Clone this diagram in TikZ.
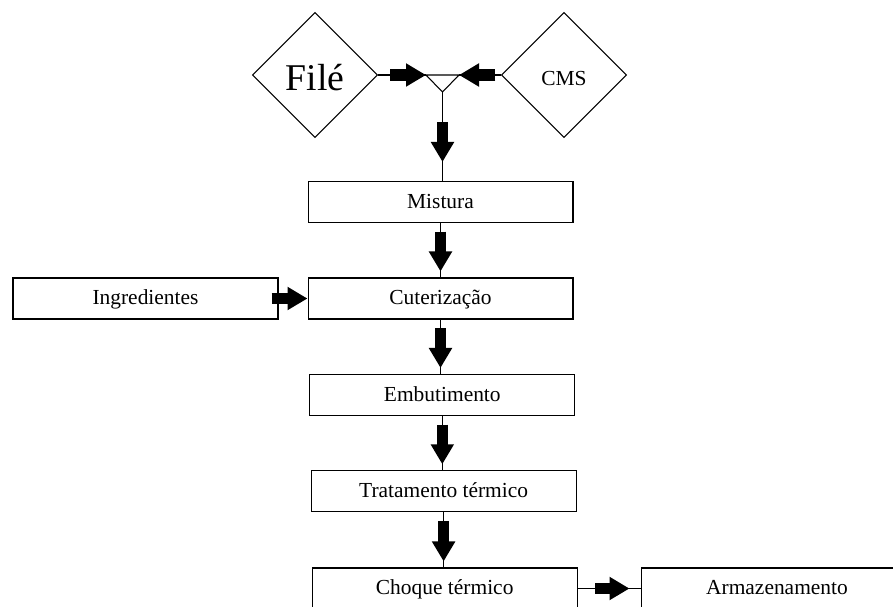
\documentclass[tikz,border=0pt]{standalone}
\usepackage{fontspec}
\setmainfont{Liberation Serif}
\usetikzlibrary{shapes.geometric,arrows.meta}

\begin{document}
\begin{tikzpicture}[x=0.02cm, y=-0.02cm,
    procbox/.style={draw, line width=0.6pt, rectangle, minimum width=5.3cm,
      minimum height=0.82cm, inner sep=0pt, text height=9pt, text depth=1.8pt,
      font=\fontsize{12.2pt}{14pt}\selectfont},
    inbox/.style={draw, line width=0.6pt, diamond, minimum width=2.5cm,
      minimum height=2.5cm, inner sep=0pt, text depth=0pt},
    thinline/.style={line width=0.6pt},
    blockarrow/.style={line width=0.23cm, -{Triangle[length=0.4cm, width=0.44cm]}}]
      \useasboundingbox (0, 0) rectangle (893, 606);

      % Draw the two raw materials
      \node[inbox, text height=17.8pt, font=\fontsize{21.5pt}{24pt}\selectfont]
        (file) at (315, 75) {Filé};
      \node[inbox, text height=12.4pt, font=\fontsize{12.2pt}{14pt}\selectfont]
        (cms) at (564, 75) {CMS};

      % Draw the junction where they meet
      \coordinate (jl) at (426, 75);
      \coordinate (jr) at (459, 75);
      \coordinate (ja) at (442.5, 92);
      \draw[thinline] (jl) -- (jr) -- (ja) -- cycle;

      % Draw the process steps
      \node[procbox] (mistura) at (440.5, 202) {Mistura};
      \node[procbox] (cuter) at (440.5, 298.5) {Cuterização};
      \node[procbox] (ingred) at (145.5, 298.5) {Ingredientes};
      \node[procbox] (embut) at (442.3, 395) {Embutimento};
      \node[procbox] (trat) at (443.6, 491.3) {Tratamento térmico};
      \node[procbox] (choque) at (444.7, 588.5) {Choque térmico};
      \node[procbox, minimum width=5.44cm] (armaz) at (777, 588.5) {Armazenamento};

      % Feed both materials into the junction
      \draw[thinline] (file.east) -- (jl);
      \draw[blockarrow, shorten <=0.24cm] (file.east) -- (jl);
      \draw[thinline] (cms.west) -- (jr);
      \draw[blockarrow, shorten <=0.11cm] (cms.west) -- (jr);

      % Down from the junction to Mistura
      \draw[thinline] (ja) -- (ja |- mistura.north);
      \draw[blockarrow, shorten <=0.6cm, shorten >=0.38cm] (ja) -- (ja |- mistura.north);

      % Down the main line
      \draw[thinline] (mistura.south) -- (mistura.south |- cuter.north);
      \draw[blockarrow, shorten <=0.17cm, shorten >=0.12cm]
        (mistura.south) -- (mistura.south |- cuter.north);
      \draw[thinline] (cuter.south) -- (cuter.south |- embut.north);
      \draw[blockarrow, shorten <=0.17cm, shorten >=0.12cm]
        (cuter.south) -- (cuter.south |- embut.north);
      \draw[thinline] (embut.south) -- (embut.south |- trat.north);
      \draw[blockarrow, shorten <=0.17cm, shorten >=0.12cm]
        (embut.south) -- (embut.south |- trat.north);
      \draw[thinline] (trat.south) -- (trat.south |- choque.north);
      \draw[blockarrow, shorten <=0.17cm, shorten >=0.12cm]
        (trat.south) -- (trat.south |- choque.north);

      % Side arrows
      \draw[blockarrow, shorten <=-0.14cm] (ingred.east) -- (ingred.east -| cuter.west);
      \draw[thinline] (choque.east) -- (armaz.west);
      \draw[blockarrow, shorten <=0.35cm, shorten >=0.22cm] (choque.east) -- (armaz.west);
\end{tikzpicture}
\end{document}
